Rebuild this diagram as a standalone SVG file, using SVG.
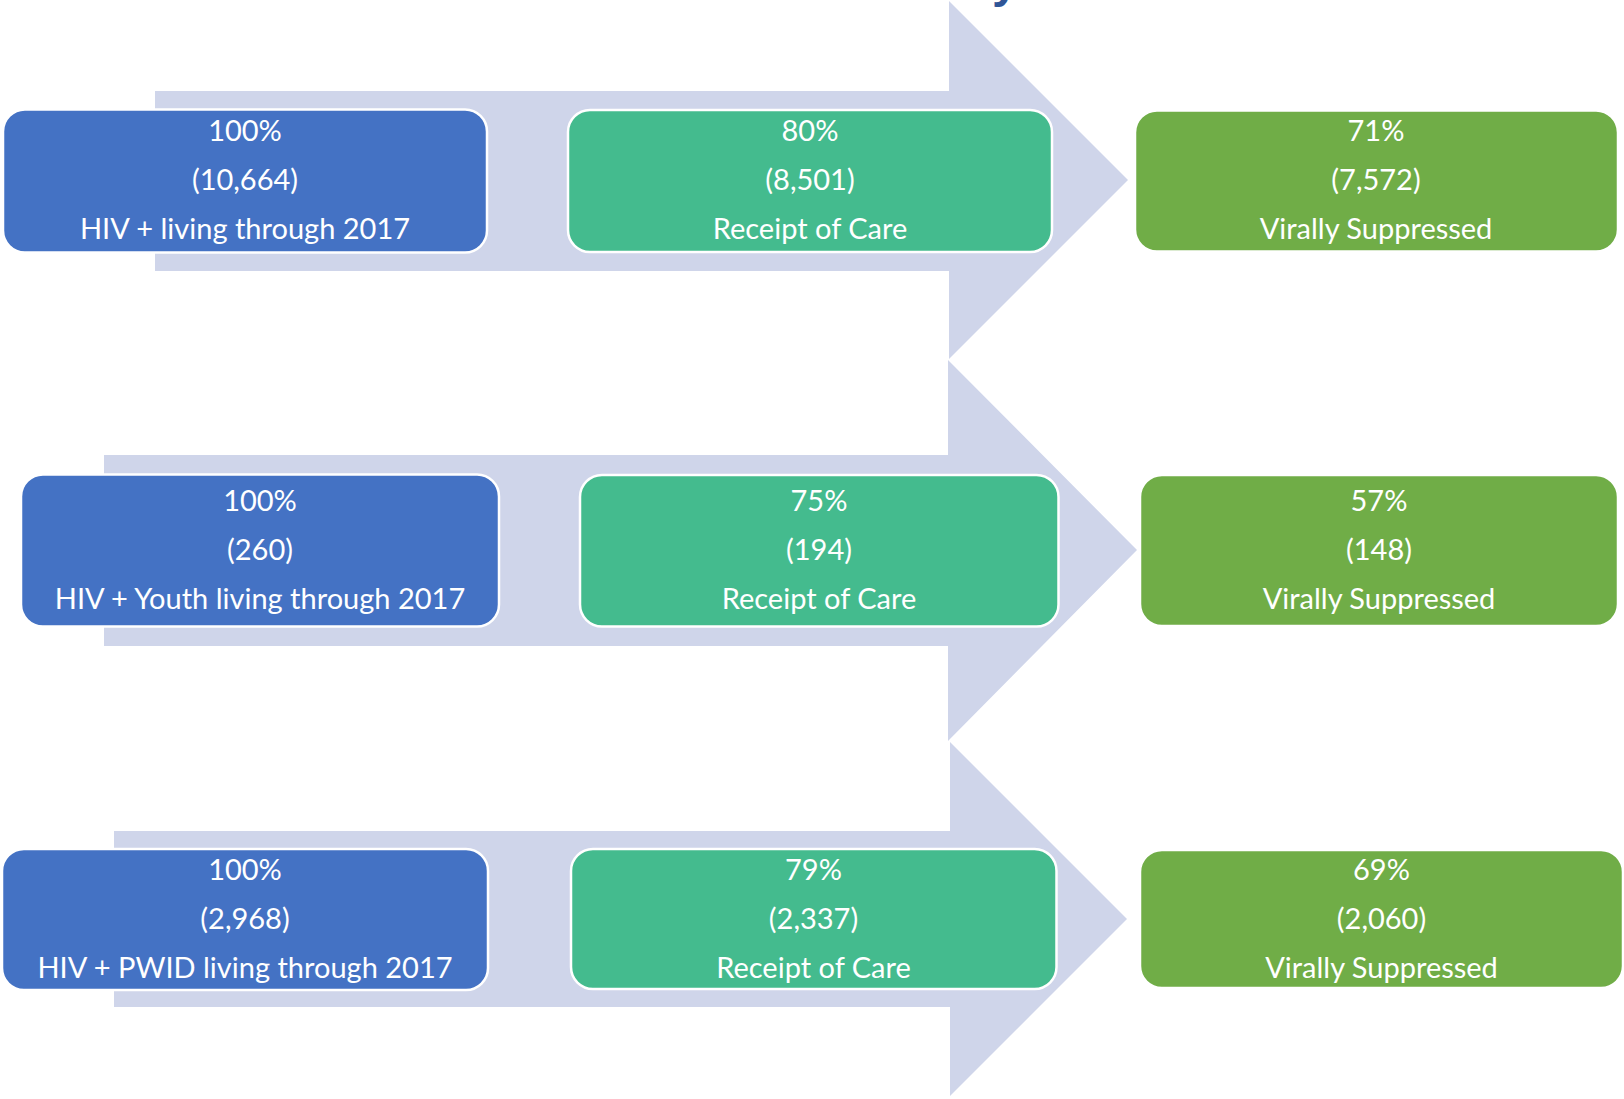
<svg xmlns="http://www.w3.org/2000/svg" width="1624" height="1099" viewBox="0 0 1624 1099">
<style>
.arrow{fill:#CFD5EA;}
.blue{fill:#4472C4;stroke:#FFFFFF;stroke-width:2.5;}
.green{fill:#44BB8E;stroke:#FFFFFF;stroke-width:2.5;}
.olive{fill:#70AD47;stroke:#FFFFFF;stroke-width:2.5;}
.t{font-family:Lato,"Open Sans","Liberation Sans",sans-serif;font-size:29px;fill:#FFFFFF;text-anchor:middle;}
.title{font-family:"Liberation Sans",Arial,sans-serif;font-size:48px;font-weight:bold;fill:#2F5597;}
</style>
<rect width="1624" height="1099" fill="#FFFFFF"/>
<text class="title" x="992" y="-3">y</text>
<g id="connectors">
<polygon class="arrow" points="155,91 949,91 949,1 1128,180 949,359 949,271 155,271"/>
<polygon class="arrow" points="104,455 948,455 948,360 1137,550 948,741 948,646 104,646"/>
<polygon class="arrow" points="114,831 950,831 950,742 1127,919 950,1096 950,1007 114,1007"/>
</g>
<g id="n1a">
<rect class="blue" x="3" y="109.5" width="484" height="143" rx="22"/>
<text class="t" x="245" y="141">100%</text>
<text class="t" x="245" y="190">(10,664)</text>
<text class="t" x="245" y="238.5">HIV + living through 2017</text>
</g>
<g id="n1b">
<rect class="green" x="568" y="110" width="484" height="142" rx="22"/>
<text class="t" x="810" y="141">80%</text>
<text class="t" x="810" y="190">(8,501)</text>
<text class="t" x="810" y="238.5">Receipt of Care</text>
</g>
<g id="n1c">
<rect class="olive" x="1135" y="110.5" width="483" height="141" rx="22"/>
<text class="t" x="1376" y="141">71%</text>
<text class="t" x="1376" y="190">(7,572)</text>
<text class="t" x="1376" y="238.5">Virally Suppressed</text>
</g>
<g id="n2a">
<rect class="blue" x="21" y="474.5" width="478" height="152" rx="22"/>
<text class="t" x="260" y="511">100%</text>
<text class="t" x="260" y="559.5">(260)</text>
<text class="t" x="260" y="608.5">HIV + Youth living through 2017</text>
</g>
<g id="n2b">
<rect class="green" x="580" y="475" width="478.5" height="151.5" rx="22"/>
<text class="t" x="819" y="511">75%</text>
<text class="t" x="819" y="559.5">(194)</text>
<text class="t" x="819" y="608.5">Receipt of Care</text>
</g>
<g id="n2c">
<rect class="olive" x="1140" y="475" width="478" height="151" rx="22"/>
<text class="t" x="1379" y="511">57%</text>
<text class="t" x="1379" y="559.5">(148)</text>
<text class="t" x="1379" y="608.5">Virally Suppressed</text>
</g>
<g id="n3a">
<rect class="blue" x="2" y="849" width="486" height="141" rx="22"/>
<text class="t" x="245" y="880">100%</text>
<text class="t" x="245" y="929">(2,968)</text>
<text class="t" x="245" y="977.5">HIV + PWID living through 2017</text>
</g>
<g id="n3b">
<rect class="green" x="571" y="849" width="485.5" height="140" rx="22"/>
<text class="t" x="813.5" y="880">79%</text>
<text class="t" x="813.5" y="929">(2,337)</text>
<text class="t" x="813.5" y="977.5">Receipt of Care</text>
</g>
<g id="n3c">
<rect class="olive" x="1140" y="850" width="483" height="138" rx="22"/>
<text class="t" x="1381.5" y="880">69%</text>
<text class="t" x="1381.5" y="929">(2,060)</text>
<text class="t" x="1381.5" y="977.5">Virally Suppressed</text>
</g>
</svg>
